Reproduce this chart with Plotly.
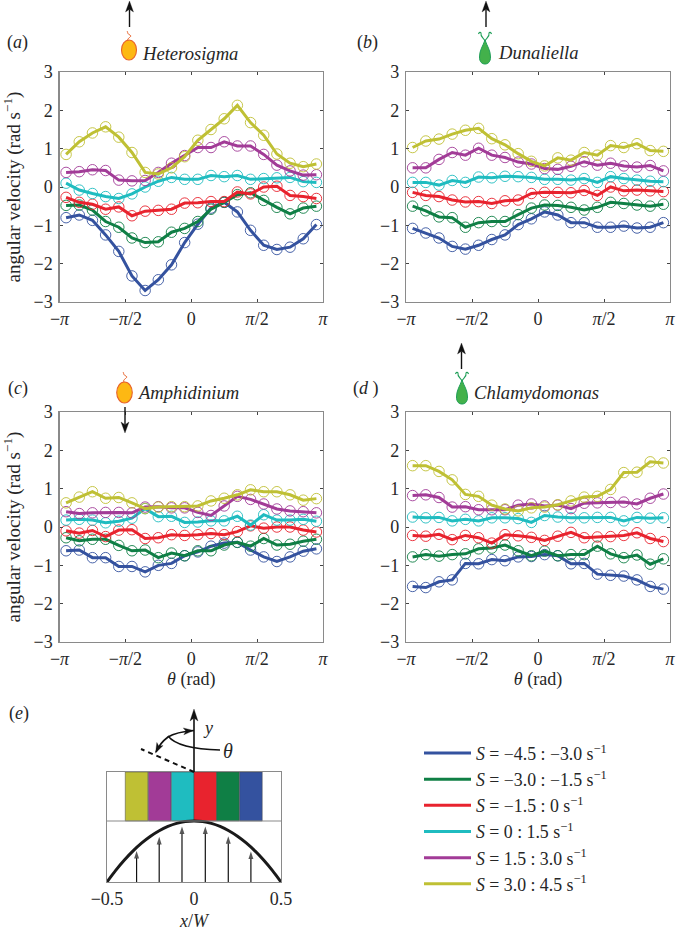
import math
import plotly.graph_objects as go

W, H = 676, 931
PI = math.pi

# bin centres in units of pi
theta_over_pi = [-0.95, -0.85, -0.75, -0.65, -0.55, -0.45, -0.35, -0.25, -0.15, -0.05,
                 0.05, 0.15, 0.25, 0.35, 0.45, 0.55, 0.65, 0.75, 0.85, 0.95]
theta = [v * PI for v in theta_over_pi]

series_names = ["blue", "green", "red", "cyan", "purple", "yellow"]
series_colors = ["#34529f", "#0f7f45", "#e8232e", "#1fbcc0", "#a23b97", "#bfc034"]
legend_labels = [
    "<i>S</i> = −4.5 : −3.0 s<sup>−1</sup>",
    "<i>S</i> = −3.0 : −1.5 s<sup>−1</sup>",
    "<i>S</i> = −1.5 : 0 s<sup>−1</sup>",
    "<i>S</i> = 0 : 1.5 s<sup>−1</sup>",
    "<i>S</i> = 1.5 : 3.0 s<sup>−1</sup>",
    "<i>S</i> = 3.0 : 4.5 s<sup>−1</sup>",
]

heterosigma = {
    "yellow": [0.85, 1.18, 1.41, 1.57, 1.3, 0.9, 0.38, 0.34, 0.5, 0.79, 1.22, 1.5, 1.78, 2.13, 1.68, 1.35, 0.86, 0.62, 0.53, 0.6],
    "purple": [0.38, 0.4, 0.45, 0.43, 0.18, 0.16, 0.17, 0.38, 0.62, 0.82, 1.03, 1.03, 1.18, 1.07, 1.07, 0.85, 0.57, 0.42, 0.31, 0.32],
    "cyan": [0.1, -0.08, -0.17, -0.25, -0.3, -0.18, 0.0, 0.15, 0.25, 0.2, 0.2, 0.3, 0.27, 0.3, 0.2, 0.22, 0.24, 0.25, 0.14, 0.12],
    "red": [-0.27, -0.4, -0.45, -0.58, -0.52, -0.75, -0.63, -0.61, -0.58, -0.42, -0.41, -0.38, -0.38, -0.13, -0.18, 0.0, 0.02, -0.22, -0.25, -0.3],
    "green": [-0.48, -0.47, -0.6, -0.9, -1.05, -1.33, -1.45, -1.43, -1.18, -1.08, -0.9, -0.58, -0.4, -0.2, -0.15, -0.35, -0.53, -0.7, -0.55, -0.5],
    "blue": [-0.8, -0.73, -0.87, -1.25, -1.68, -2.32, -2.7, -2.42, -2.03, -1.45, -0.97, -0.55, -0.4, -0.65, -1.13, -1.52, -1.63, -1.57, -1.35, -0.98],
}
dunaliella = {
    "yellow": [1.03, 1.2, 1.25, 1.38, 1.48, 1.53, 1.26, 1.1, 0.87, 0.67, 0.55, 0.76, 0.7, 0.9, 0.83, 1.08, 1.03, 1.13, 0.95, 0.93],
    "purple": [0.5, 0.5, 0.72, 0.9, 0.83, 1.01, 0.83, 0.77, 0.65, 0.6, 0.48, 0.46, 0.54, 0.66, 0.57, 0.62, 0.55, 0.52, 0.56, 0.42],
    "cyan": [0.12, 0.12, 0.05, 0.17, 0.12, 0.26, 0.24, 0.28, 0.27, 0.25, 0.2, 0.2, 0.18, 0.22, 0.12, 0.27, 0.22, 0.18, 0.15, 0.14],
    "red": [-0.14, -0.22, -0.25, -0.34, -0.39, -0.38, -0.43, -0.36, -0.34, -0.17, -0.14, -0.14, -0.15, -0.09, -0.22, 0.0, -0.1, -0.08, -0.1, -0.12],
    "green": [-0.5, -0.62, -0.78, -0.8, -1.05, -0.93, -0.9, -0.9, -0.72, -0.55, -0.47, -0.48, -0.53, -0.6, -0.53, -0.4, -0.43, -0.47, -0.5, -0.45],
    "blue": [-1.08, -1.2, -1.33, -1.55, -1.62, -1.52, -1.37, -1.25, -0.98, -0.83, -0.65, -0.73, -0.93, -0.93, -1.05, -1.05, -1.02, -1.07, -1.05, -0.93],
}
amphidinium = {
    "yellow": [0.63, 0.78, 0.92, 0.75, 0.77, 0.63, 0.48, 0.52, 0.53, 0.53, 0.55, 0.68, 0.75, 0.84, 0.97, 0.92, 0.92, 0.84, 0.7, 0.74],
    "purple": [0.4, 0.35, 0.37, 0.38, 0.38, 0.37, 0.52, 0.53, 0.5, 0.5, 0.38, 0.3, 0.55, 0.8, 0.72, 0.6, 0.47, 0.42, 0.4, 0.37],
    "cyan": [0.18, 0.2, 0.18, 0.11, 0.15, 0.23, 0.48, 0.27, 0.28, 0.12, 0.13, 0.16, 0.16, 0.28, 0.05, 0.32, 0.18, 0.18, 0.2, 0.15],
    "red": [-0.1, -0.16, -0.09, -0.25, -0.08, -0.07, -0.3, -0.28, -0.2, -0.22, -0.2, -0.17, -0.2, -0.12, 0.03, -0.03, 0.0, 0.0, -0.08, -0.13],
    "green": [-0.28, -0.36, -0.32, -0.32, -0.48, -0.62, -0.6, -0.8, -0.68, -0.75, -0.62, -0.62, -0.47, -0.4, -0.5, -0.3, -0.47, -0.45, -0.37, -0.32],
    "blue": [-0.62, -0.6, -0.8, -0.8, -1.03, -1.03, -1.17, -1.0, -0.95, -0.75, -0.65, -0.5, -0.42, -0.4, -0.6, -0.78, -0.9, -0.78, -0.63, -0.57],
}
chlamydomonas = {
    "yellow": [1.6, 1.6, 1.45, 1.23, 0.85, 0.8, 0.57, 0.47, 0.42, 0.5, 0.52, 0.58, 0.68, 0.78, 0.8, 0.98, 1.42, 1.43, 1.7, 1.67],
    "purple": [0.82, 0.84, 0.77, 0.52, 0.53, 0.45, 0.45, 0.45, 0.57, 0.6, 0.55, 0.57, 0.48, 0.62, 0.63, 0.64, 0.65, 0.6, 0.75, 0.86],
    "cyan": [0.26, 0.24, 0.25, 0.16, 0.2, 0.16, 0.24, 0.24, 0.22, 0.12, 0.3, 0.26, 0.24, 0.24, 0.25, 0.25, 0.16, 0.25, 0.23, 0.24],
    "red": [-0.22, -0.24, -0.19, -0.33, -0.22, -0.28, -0.42, -0.2, -0.23, -0.27, -0.35, -0.24, -0.14, -0.28, -0.26, -0.25, -0.22, -0.15, -0.3, -0.38],
    "green": [-0.78, -0.72, -0.76, -0.72, -0.7, -0.57, -0.55, -0.47, -0.62, -0.75, -0.63, -0.75, -0.72, -0.72, -0.5, -0.7, -0.8, -0.73, -0.97, -0.83],
    "blue": [-1.55, -1.58, -1.43, -1.38, -0.95, -0.96, -0.85, -0.88, -0.78, -0.77, -0.72, -0.75, -0.96, -0.95, -1.23, -1.26, -1.28, -1.38, -1.55, -1.62],
}
panels = [heterosigma, dunaliella, amphidinium, chlamydomonas]

x_tick_vals = [-PI, -PI / 2, 0, PI / 2, PI]
x_tick_text = ["−<i>π</i>", "−<i>π</i>/2", "0", "<i>π</i>/2", "<i>π</i>"]
y_tick_vals = [-3, -2, -1, 0, 1, 2, 3]
y_tick_text = ["−3", "−2", "−1", "0", "1", "2", "3"]

# panel (e): channel schematic
bin_centres = [-0.33, -0.197, -0.065, 0.065, 0.195, 0.327]
bin_order = ["yellow", "purple", "cyan", "red", "green", "blue"]
profile_x = [-0.5, -0.45, -0.4, -0.35, -0.3, -0.25, -0.2, -0.15, -0.1, -0.05, 0, 0.05, 0.1, 0.15, 0.2, 0.25, 0.3, 0.35, 0.4, 0.45, 0.5]
profile_y = [0.0, 0.19, 0.36, 0.51, 0.64, 0.75, 0.84, 0.91, 0.96, 0.99, 1.0, 0.99, 0.96, 0.91, 0.84, 0.75, 0.64, 0.51, 0.36, 0.19, 0.0]
flow_x = [-0.33, -0.2, -0.069, 0.065, 0.197, 0.327]
flow_top = [0.51, 0.74, 0.91, 0.91, 0.75, 0.5]

FONT = "Liberation Serif"
TXT = "#262626"
FRAME = "#8a8a8a"


def fx(p):
    return p / W


def fy(p):
    return 1 - p / H


domains = [((59.5, 323), (72, 302)), ((406, 670), (72, 302)),
           ((59.5, 323), (412, 642)), ((406, 670), (412, 642))]

layout_axes = {}
fig = go.Figure()

for i, (panel, (dx, dy)) in enumerate(zip(panels, domains)):
    n = i + 1
    xn = "x" if n == 1 else f"x{n}"
    yn = "y" if n == 1 else f"y{n}"
    for name, color in zip(series_names, series_colors):
        fig.add_trace(go.Scatter(
            x=theta, y=panel[name], xaxis=xn, yaxis=yn, mode="lines+markers",
            line=dict(color=color, width=3),
            marker=dict(symbol="circle-open", size=10.5, color=color, line=dict(color=color, width=0.9)),
            showlegend=False, hoverinfo="skip", cliponaxis=False,
        ))
    key = "" if n == 1 else str(n)
    layout_axes["xaxis" + key] = dict(
        domain=[fx(dx[0]), fx(dx[1])], range=[-PI, PI], anchor=yn, automargin=False,
        tickmode="array", tickvals=x_tick_vals, ticktext=x_tick_text, ticklabelstandoff=0,
        ticks="inside", ticklen=3, tickwidth=1, tickcolor="#444", showgrid=False, zeroline=False,
        showline=True, mirror="ticks", linecolor=FRAME, linewidth=1.2,
        tickfont=dict(family=FONT, size=18, color=TXT),
        title=dict(text="<i>θ</i> (rad)", font=dict(family=FONT, size=18, color=TXT), standoff=0) if n > 2 else None,
    )
    layout_axes["yaxis" + key] = dict(
        domain=[fy(dy[1]), fy(dy[0])], range=[-3, 3], anchor=xn, automargin=False,
        tickmode="array", tickvals=y_tick_vals, ticktext=y_tick_text, ticklabelstandoff=2,
        ticks="inside", ticklen=3, tickwidth=1, tickcolor="#444", showgrid=False, zeroline=False,
        showline=True, mirror="ticks", linecolor=FRAME, linewidth=1.2,
        tickfont=dict(family=FONT, size=18, color=TXT),
        title=dict(text="angular velocity (rad s<sup>−1</sup>)", font=dict(family=FONT, size=19, color=TXT)) if n in (1, 3) else None,
    )

# panel (e)
bin_colors = [series_colors[series_names.index(n)] for n in bin_order]
fig.add_trace(go.Bar(x=bin_centres, y=[0.803] * 6, base=[1.0] * 6, width=0.13, xaxis="x5", yaxis="y5",
                     marker=dict(color=bin_colors, line=dict(color="#444", width=0.5)),
                     showlegend=False, hoverinfo="skip"))
for xv, top in zip(flow_x, flow_top):
    fig.add_trace(go.Scatter(x=[xv, xv], y=[0, top], xaxis="x5", yaxis="y5", mode="lines+markers",
                             line=dict(color="#111", width=1.2),
                             marker=dict(symbol="arrow", size=[0, 8], color="#111", angleref="previous",
                                         line=dict(width=0)),
                             showlegend=False, hoverinfo="skip", cliponaxis=False))
fig.add_trace(go.Scatter(x=profile_x, y=profile_y, xaxis="x5", yaxis="y5", mode="lines",
                         line=dict(color="#1a1a1a", width=3, shape="spline"), showlegend=False,
                         hoverinfo="skip", cliponaxis=False))
layout_axes["xaxis5"] = dict(
    domain=[fx(107), fx(281)], range=[-0.5, 0.5], anchor="y5", automargin=False,
    tickmode="array", tickvals=[-0.5, 0, 0.5], ticktext=["−0.5", "0", "0.5"],
    ticks="", showgrid=False, zeroline=False, showline=True, mirror=True, linecolor=FRAME, linewidth=1.2,
    tickfont=dict(family=FONT, size=18, color=TXT),
    title=dict(text="<i>x</i>/<i>W</i>", font=dict(family=FONT, size=18, color=TXT)),
)
layout_axes["yaxis5"] = dict(
    domain=[fy(882), fy(772)], range=[0, 1.803], anchor="x5", automargin=False,
    showticklabels=False, ticks="", showgrid=False, zeroline=False, showline=True, mirror=True,
    linecolor=FRAME, linewidth=1.2,
)

# legend entries
for label, color in zip(legend_labels, series_colors):
    fig.add_trace(go.Scatter(x=[None], y=[None], mode="lines", name=label, legendgroup=label,
                             line=dict(color=color, width=3), xaxis="x", yaxis="y"))

annotations = []
shapes = []


def text(px, py, s, size=16, xanchor="center", color=TXT):
    annotations.append(dict(x=fx(px), y=fy(py), xref="paper", yref="paper", text=s, showarrow=False,
                            xanchor=xanchor, yanchor="middle", font=dict(family=FONT, size=size, color=color)))


def path(d, color, width=1.0, fill=None, dash=None):
    toks = d.split()
    out = []
    for t in toks:
        if "," in t:
            a, b = t.split(",")
            out.append(f"{fx(float(a)):.5f},{fy(float(b)):.5f}")
        else:
            out.append(t)
    sh = dict(type="path", xref="paper", yref="paper", path=" ".join(out),
              line=dict(color=color, width=width, dash=dash or "solid"))
    if fill:
        sh["fillcolor"] = fill
    shapes.append(sh)


def arrow(x0, y0, x1, y1, width=1.4, length=11, half=4, color="#111", stem=True):
    d = math.hypot(x1 - x0, y1 - y0)
    ux, uy = (x1 - x0) / d, (y1 - y0) / d
    nx, ny = -uy, ux
    bx, by = x1 - ux * length, y1 - uy * length
    mx, my = x1 - ux * length * 0.75, y1 - uy * length * 0.75
    if stem:
        path(f"M {x0:.2f},{y0:.2f} L {mx:.2f},{my:.2f}", color, width)
    path(f"M {x1:.2f},{y1:.2f} L {bx + nx * half:.2f},{by + ny * half:.2f} L {mx:.2f},{my:.2f} "
         f"L {bx - nx * half:.2f},{by - ny * half:.2f} Z", color, 0.3, color)


def ellipse(cx, cy, rx, ry, fill, line):
    shapes.append(dict(type="circle", xref="paper", yref="paper", x0=fx(cx - rx), x1=fx(cx + rx),
                       y0=fy(cy + ry), y1=fy(cy - ry), fillcolor=fill, line=dict(color=line, width=1.1)))


ORANGE, ORANGE_L = "#fdb813", "#e8622a"
GREEN, GREEN_L = "#43b14b", "#1e9e57"

# panel letters
for px, py, s in [(17, 43, "(<i>a</i>)"), (367, 42, "(<i>b</i>)"), (18, 388, "(<i>c</i>)"),
                  (366, 388, "(<i>d</i> )"), (19, 713, "(<i>e</i>)")]:
    text(px, py, s, size=18)

# organisms
text(140, 53, "<i>Heterosigma</i>", 18.6, "left")
text(496, 52, "<i>Dunaliella</i>", 18.6, "left")
text(135, 392, "<i>Amphidinium</i>", 18.6, "left")
text(472, 392, "<i>Chlamydomonas</i>", 18.6, "left")

arrow(129.5, 27, 129.5, 1)
arrow(486, 27, 486, 1)
arrow(125, 407, 125, 433)
arrow(461.5, 369, 461.5, 343)

ellipse(129, 50, 7.5, 10, ORANGE, ORANGE_L)
path("M 128,41 C 126,38 133,37 130,35 C 127,34 128,32 127,31", ORANGE_L, 1)
ellipse(124.5, 392.5, 7.8, 10.5, ORANGE, ORANGE_L)
path("M 124,382 C 122,379 129,378 126,376 C 123,375 124,373 123,372", ORANGE_L, 1)


def chlorophyte(cx, top):
    path(f"M {cx},{top+8} C {cx-2},{top+14} {cx-5.5},{top+18} {cx-5.5},{top+25} C {cx-5.5},{top+30} {cx-3},{top+32} {cx},{top+32} "
         f"C {cx+3},{top+32} {cx+5.5},{top+30} {cx+5.5},{top+25} C {cx+5.5},{top+18} {cx+2},{top+14} {cx},{top+8} Z",
         GREEN_L, 1, GREEN)
    path(f"M {cx},{top+9} C {cx-1},{top+6} {cx-5},{top+5} {cx-4},{top+1} C {cx-4.5},{top} {cx-6},{top} {cx-6.5},{top+2}", GREEN_L, 1.1)
    path(f"M {cx},{top+9} C {cx+1},{top+6} {cx+5},{top+5} {cx+4},{top+1} C {cx+4.5},{top} {cx+6},{top} {cx+6.5},{top+2}", GREEN_L, 1.1)


chlorophyte(485, 32)
chlorophyte(462, 372)

# panel (e) decorations
shapes.append(dict(type="line", xref="paper", yref="paper", x0=fx(107), x1=fx(281), y0=fy(821), y1=fy(821),
                   line=dict(color=FRAME, width=1.2)))
arrow(194, 772, 194, 709, 1.6, 12, 4)
path("M 194,772 L 141,749", "#111", 2, dash="5px,4px")
path("M 194,730.5 Q 176,732 168,737 Q 160,743 156,752", "#111", 1.6)
arrow(182, 731.5, 193.5, 730.5, 1.4, 10, 3.5, stem=False)
arrow(160, 744, 155.5, 753, 1.4, 10, 3.5, stem=False)
path("M 168,736 Q 178,749 220,750", "#111", 1.4)
text(228, 751, "<i>θ</i>", 20)
text(208, 728, "<i>y</i>", 18)

fig.update_layout(
    width=W, height=H, autosize=False, margin=dict(l=0, r=0, t=0, b=0),
    paper_bgcolor="white", plot_bgcolor="rgba(0,0,0,0)",
    barmode="overlay", showlegend=True,
    legend=dict(x=fx(419), y=fy(735), xanchor="left", yanchor="top", bgcolor="rgba(0,0,0,0)",
                font=dict(family=FONT, size=17.8, color=TXT), itemwidth=47, tracegroupgap=3,
                traceorder="normal", itemclick=False, itemdoubleclick=False),
    annotations=annotations, shapes=shapes, **layout_axes,
)

fig.write_html("out.html", config=dict(displayModeBar=False, staticPlot=True),
               post_script="document.body.style.margin='0';document.body.style.overflow='hidden';")
